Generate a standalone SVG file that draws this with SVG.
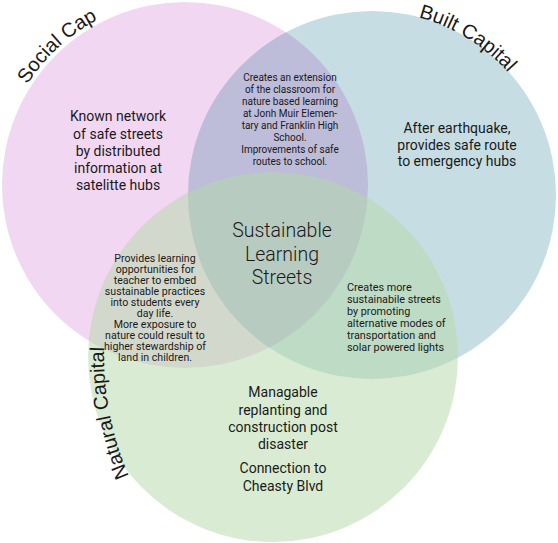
<svg xmlns="http://www.w3.org/2000/svg" xmlns:xlink="http://www.w3.org/1999/xlink" width="558" height="543" viewBox="0 0 558 543">
<style>
.lbl{font-family:"Liberation Sans",Arial,sans-serif;font-size:20px;fill:#1a1a1a}
.t14{font-family:Roboto,"Liberation Sans",sans-serif;font-size:14px;fill:#1a1a1a;text-anchor:middle}
.t10{font-family:Roboto,"Liberation Sans",sans-serif;font-size:10px;fill:#1a1a1a;text-anchor:middle}
.t11{font-family:Roboto,"Liberation Sans",sans-serif;font-size:10.6px;fill:#1a1a1a;text-anchor:middle}
.t11l{font-family:Roboto,"Liberation Sans",sans-serif;font-size:10.8px;fill:#1a1a1a}
.big{font-family:Roboto,"Liberation Sans",sans-serif;font-size:19.5px;font-weight:300;fill:#1a1a1a;text-anchor:middle}
</style>
<defs>
<clipPath id="clipPink"><circle cx="185" cy="185" r="183"/></clipPath>
<path id="arcSocial" d="M 27.3 84.5 A 187 187 0 0 1 185 -2"/>
<path id="arcBuilt" d="M 418.6 17.3 A 184 184 0 0 1 555 195"/>
<path id="arcNatural" d="M 129 476 A 300 300 0 0 1 106 322"/>
</defs>
<rect width="558" height="543" fill="#ffffff"/>
<g id="shapes">
<circle id="social" cx="185" cy="185" r="183" fill="#f2d7f3"/>
<circle id="built" cx="372" cy="195" r="184" fill="#c6dde3"/>
<circle cx="372" cy="195" r="184" fill="#bdbcd9" clip-path="url(#clipPink)"/>
<circle id="natural" cx="273" cy="357" r="185" fill="#b3d9a7" fill-opacity="0.5"/>
</g>
<g id="labels">
<text class="lbl"><textPath xlink:href="#arcSocial">Social Cap</textPath></text>
<text class="lbl"><textPath xlink:href="#arcBuilt">Built Capital</textPath></text>
<text class="lbl"><textPath xlink:href="#arcNatural">Natural Capital</textPath></text>
</g>
<g id="node-social">
<text class="t14" x="118" y="121">Known network</text>
<text class="t14" x="118" y="138.5">of safe streets</text>
<text class="t14" x="118" y="156">by distributed</text>
<text class="t14" x="118" y="173">information at</text>
<text class="t14" x="118" y="190">satelitte hubs</text>
</g>
<g id="node-built">
<text class="t14" x="457" y="133">After earthquake,</text>
<text class="t14" x="457" y="150">provides safe route</text>
<text class="t14" x="457" y="166">to emergency hubs</text>
</g>
<g id="node-social-built">
<text class="t10" x="290" y="81">Creates an extension</text>
<text class="t10" x="290" y="93">of the classroom for</text>
<text class="t10" x="290" y="105">nature based learning</text>
<text class="t10" x="290" y="117">at Jonh Muir Elemen-</text>
<text class="t10" x="290" y="129">tary and Franklin High</text>
<text class="t10" x="290" y="141">School.</text>
<text class="t10" x="290" y="153">Improvements of safe</text>
<text class="t10" x="290" y="165">routes to school.</text>
</g>
<g id="node-center">
<text class="big" x="282" y="237">Sustainable</text>
<text class="big" x="282" y="260.5">Learning</text>
<text class="big" x="282" y="284">Streets</text>
</g>
<g id="node-social-natural">
<text class="t11" x="155" y="262">Provides learning</text>
<text class="t11" x="155" y="273">opportunities for</text>
<text class="t11" x="155" y="284">teacher to embed</text>
<text class="t11" x="155" y="295">sustainable practices</text>
<text class="t11" x="155" y="306">into students every</text>
<text class="t11" x="155" y="317">day life.</text>
<text class="t11" x="155" y="328">More exposure to</text>
<text class="t11" x="155" y="339">nature could result to</text>
<text class="t11" x="155" y="350">higher stewardship of</text>
<text class="t11" x="155" y="361">land in children.</text>
</g>
<g id="node-built-natural">
<text class="t11l" x="347" y="291">Creates more</text>
<text class="t11l" x="347" y="303">sustainabile streets</text>
<text class="t11l" x="347" y="315">by promoting</text>
<text class="t11l" x="347" y="327">alternative modes of</text>
<text class="t11l" x="347" y="339">transportation and</text>
<text class="t11l" x="347" y="351">solar powered lights</text>
</g>
<g id="node-natural">
<text class="t14" x="283" y="397">Managable</text>
<text class="t14" x="283" y="414.5">replanting and</text>
<text class="t14" x="283" y="432">construction post</text>
<text class="t14" x="283" y="449">disaster</text>
<text class="t14" x="283" y="473">Connection to</text>
<text class="t14" x="283" y="491">Cheasty Blvd</text>
</g>
<g id="connectors"></g>
</svg>
